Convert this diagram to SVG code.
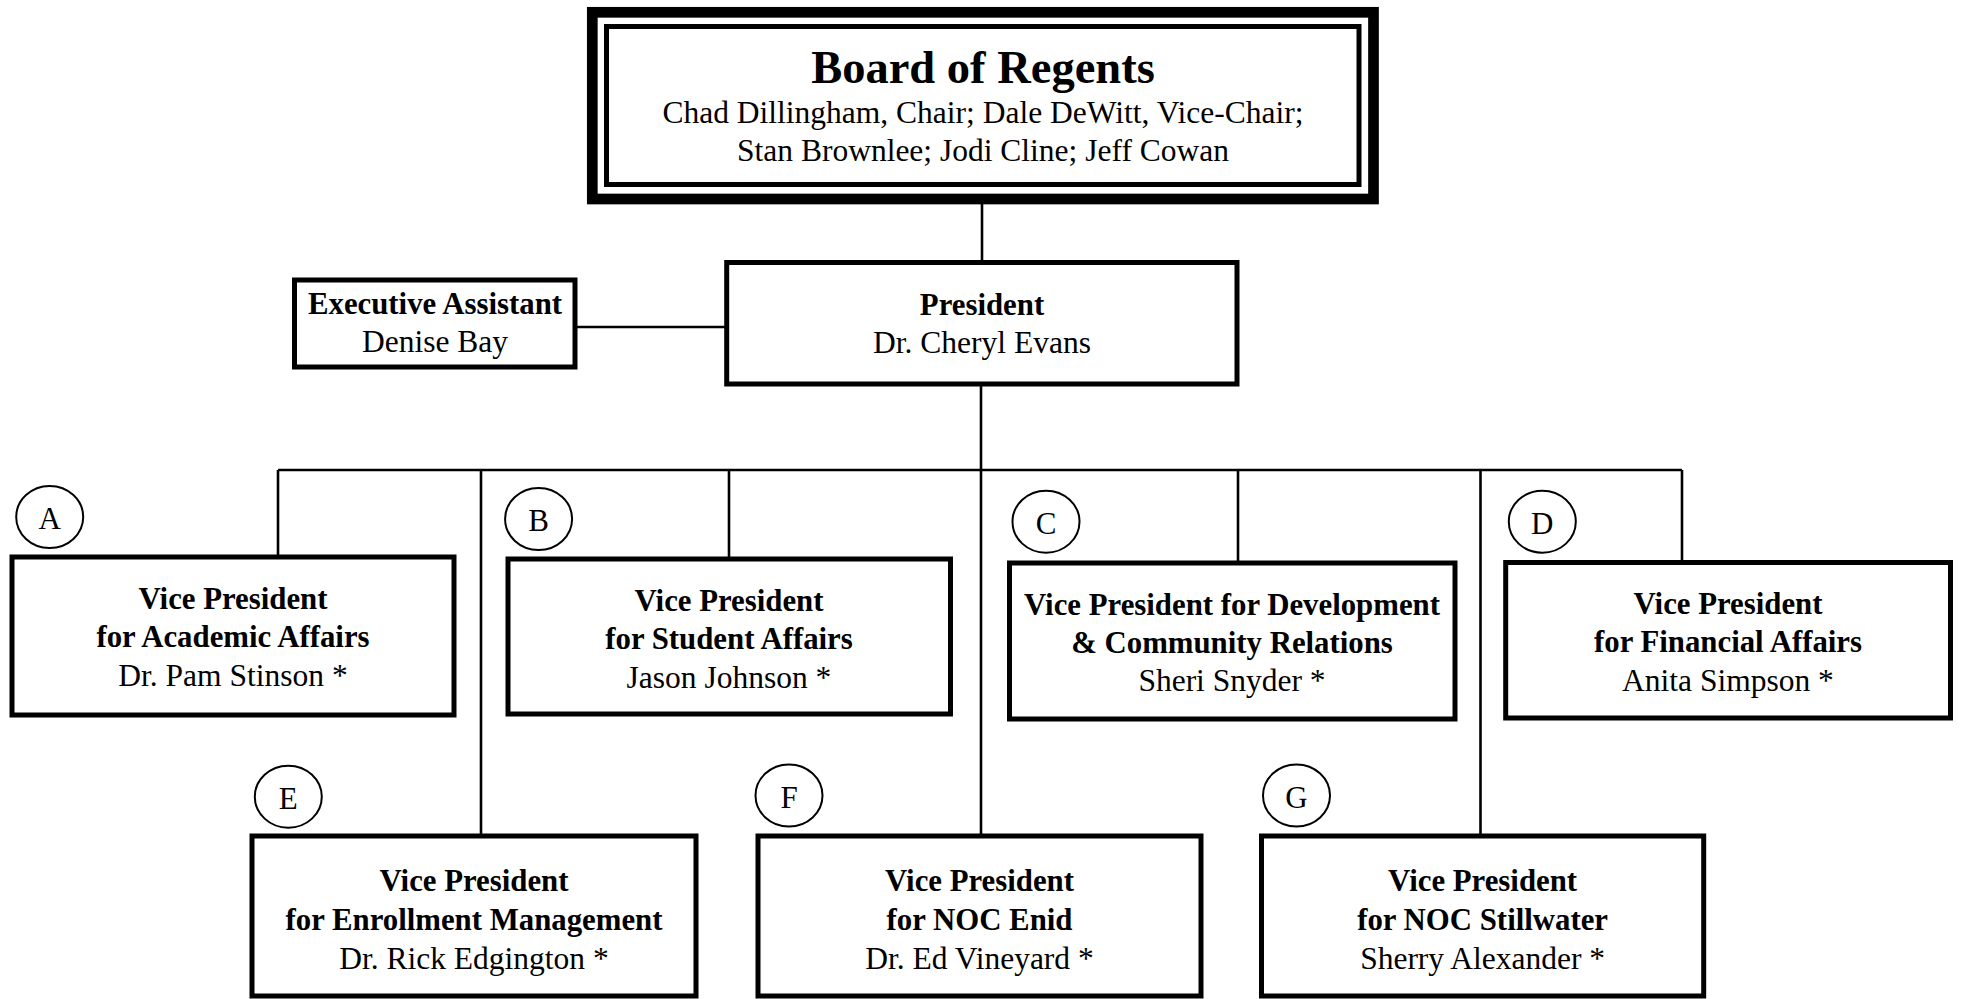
<svg xmlns="http://www.w3.org/2000/svg" width="1961" height="999" viewBox="0 0 1961 999">
<style>
.box{fill:#fff;stroke:#000;stroke-width:5}
.ln{stroke:#000;stroke-width:2.6;fill:none}
.circ{fill:#fff;stroke:#000;stroke-width:2}
text{font-family:"Liberation Serif","Times New Roman",serif;fill:#000;text-anchor:middle}
.b{font-weight:bold;font-size:30.8px}
.r{font-size:31.5px}
.t{font-weight:bold;font-size:46.5px}
.c{font-size:31.5px}
.l{font-size:31px}
</style>
<rect x="0" y="0" width="1961" height="999" fill="#fff"/>
<g id="connectors">
<line class="ln" x1="982" y1="204" x2="982" y2="262"/>
<line class="ln" x1="577" y1="327" x2="726" y2="327"/>
<line class="ln" x1="981" y1="384" x2="981" y2="836"/>
<line class="ln" x1="278" y1="470" x2="1682" y2="470"/>
<line class="ln" x1="278" y1="470" x2="278" y2="557"/>
<line class="ln" x1="481" y1="470" x2="481" y2="836"/>
<line class="ln" x1="729" y1="470" x2="729" y2="559"/>
<line class="ln" x1="1238" y1="470" x2="1238" y2="563"/>
<line class="ln" x1="1480.5" y1="470" x2="1480.5" y2="836"/>
<line class="ln" x1="1682" y1="470" x2="1682" y2="562"/>
</g>
<g id="board">
<rect x="592.3" y="12.3" width="781.2" height="186.7" fill="#fff" stroke="#000" stroke-width="10.7"/>
<rect x="606.5" y="26.5" width="752.5" height="158" fill="none" stroke="#000" stroke-width="5"/>
<text class="t" x="983" y="83">Board of Regents</text>
<text class="c" x="983" y="123">Chad Dillingham, Chair; Dale DeWitt, Vice-Chair;</text>
<text class="c" x="983" y="161">Stan Brownlee; Jodi Cline; Jeff Cowan</text>
</g>
<g id="president">
<rect class="box" x="726.7" y="262.5" width="510.3" height="121.5"/>
<text class="b" x="982" y="315">President</text>
<text class="r" x="982" y="353">Dr. Cheryl Evans</text>
</g>
<g id="exec">
<rect class="box" x="294.5" y="280" width="280.5" height="87"/>
<text class="b" x="435" y="314">Executive Assistant</text>
<text class="r" x="435" y="352">Denise Bay</text>
</g>
<g id="vpA">
<rect class="box" x="12" y="557" width="442" height="158"/>
<text class="b" x="233" y="609">Vice President</text>
<text class="b" x="233" y="647">for Academic Affairs</text>
<text class="r" x="233" y="686">Dr. Pam Stinson *</text>
</g>
<g id="vpB">
<rect class="box" x="508" y="559" width="442.5" height="155"/>
<text class="b" x="729" y="611">Vice President</text>
<text class="b" x="729" y="649">for Student Affairs</text>
<text class="r" x="729" y="688">Jason Johnson *</text>
</g>
<g id="vpC">
<rect class="box" x="1009.5" y="563" width="445.5" height="156"/>
<text class="b" x="1232" y="615">Vice President for Development</text>
<text class="b" x="1232" y="653">&amp; Community Relations</text>
<text class="r" x="1232" y="691">Sheri Snyder *</text>
</g>
<g id="vpD">
<rect class="box" x="1505.7" y="562.5" width="444.8" height="155.5"/>
<text class="b" x="1728" y="614">Vice President</text>
<text class="b" x="1728" y="652">for Financial Affairs</text>
<text class="r" x="1728" y="691">Anita Simpson *</text>
</g>
<g id="vpE">
<rect class="box" x="252" y="836" width="444" height="160"/>
<text class="b" x="474" y="891">Vice President</text>
<text class="b" x="474" y="930">for Enrollment Management</text>
<text class="r" x="474" y="969">Dr. Rick Edgington *</text>
</g>
<g id="vpF">
<rect class="box" x="758" y="836" width="443" height="160"/>
<text class="b" x="979.5" y="891">Vice President</text>
<text class="b" x="979.5" y="930">for NOC Enid</text>
<text class="r" x="979.5" y="969">Dr. Ed Vineyard *</text>
</g>
<g id="vpG">
<rect class="box" x="1261.5" y="836" width="442.2" height="160"/>
<text class="b" x="1482.6" y="891">Vice President</text>
<text class="b" x="1482.6" y="930">for NOC Stillwater</text>
<text class="r" x="1482.6" y="969">Sherry Alexander *</text>
</g>
<g id="labelA"><ellipse class="circ" cx="49.7" cy="517" rx="33.5" ry="31"/><text class="l" x="49.7" y="529">A</text></g>
<g id="labelB"><ellipse class="circ" cx="538.6" cy="519" rx="33.5" ry="31"/><text class="l" x="538.6" y="531">B</text></g>
<g id="labelC"><ellipse class="circ" cx="1046" cy="521.7" rx="33.5" ry="31"/><text class="l" x="1046" y="533.5">C</text></g>
<g id="labelD"><ellipse class="circ" cx="1542.3" cy="521.7" rx="33.5" ry="31"/><text class="l" x="1542.3" y="533.5">D</text></g>
<g id="labelE"><ellipse class="circ" cx="288.3" cy="796.7" rx="33.5" ry="31"/><text class="l" x="288.3" y="808.5">E</text></g>
<g id="labelF"><ellipse class="circ" cx="789" cy="795.5" rx="33.5" ry="31"/><text class="l" x="789" y="807.5">F</text></g>
<g id="labelG"><ellipse class="circ" cx="1296.5" cy="795.5" rx="33.5" ry="31"/><text class="l" x="1296.5" y="807.5">G</text></g>
</svg>
